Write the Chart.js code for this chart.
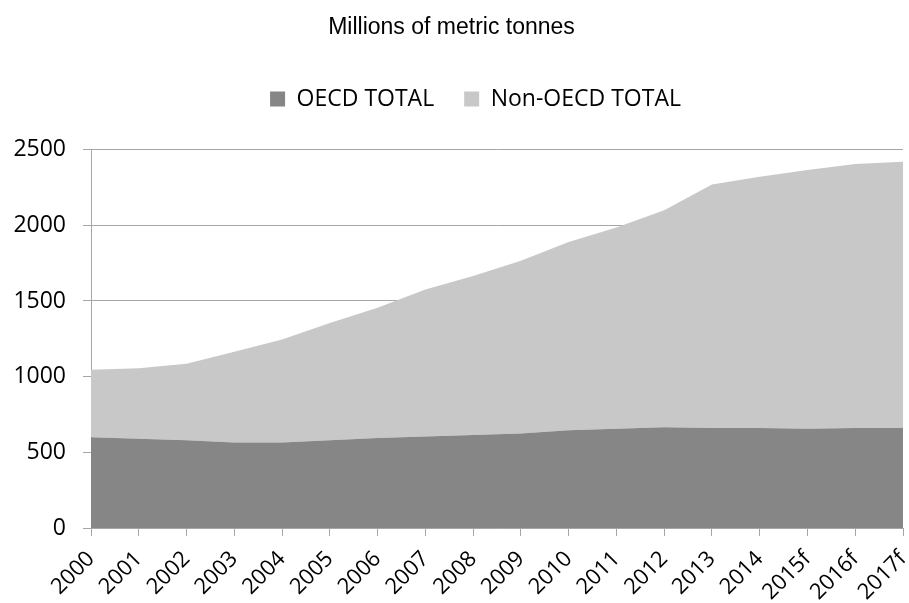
<!DOCTYPE html>
<html lang="en">
<head>
  <meta charset="UTF-8">
  <title>Millions of metric tonnes</title>
  <script src="https://cdn.jsdelivr.net/npm/chart.js"></script>
  <style>
    body {
      margin: 0;
      background: #ffffff;
    }
    .chart-container {
      width: 909px;
      height: 603px;
    }
  </style>
</head>
<body>
  <div class="chart-container">
    <canvas id="areaChart"></canvas>
  </div>

  <script>
    const years = [
      '2000', '2001', '2002', '2003', '2004', '2005', '2006', '2007', '2008',
      '2009', '2010', '2011', '2012', '2013', '2014', '2015f', '2016f', '2017f'
    ];

    const oecdTotal = [600, 590, 580, 565, 565, 580, 595, 605, 615, 625, 645, 655, 665, 660, 660, 655, 660, 660];
    const nonOecdTotal = [445, 465, 505, 600, 680, 775, 860, 970, 1050, 1140, 1245, 1330, 1435, 1610, 1660, 1710, 1745, 1760];

    const yTicks = [0, 500, 1000, 1500, 2000, 2500];

    // pushes the plot down from the legend and nudges the legend right
    const legendGap = {
      id: 'legendGap',
      beforeInit(chart) {
        const fit = chart.legend.fit;
        chart.legend.fit = function () {
          fit.bind(chart.legend)();
          this.height += 29;
        };
      },
      afterLayout(chart) {
        chart.legend.left += 24;
        chart.legend.right += 24;
      }
    };

    const ctx = document.getElementById('areaChart').getContext('2d');
    new Chart(ctx, {
      type: 'line',
      data: {
        labels: years,
        datasets: [
          {
            label: 'OECD TOTAL',
            data: oecdTotal,
            backgroundColor: '#868686',
            borderColor: '#868686',
            borderWidth: 0,
            pointRadius: 0,
            fill: 'origin',
            tension: 0
          },
          {
            label: 'Non-OECD TOTAL',
            data: nonOecdTotal,
            backgroundColor: '#c8c8c8',
            borderColor: '#c8c8c8',
            borderWidth: 0,
            pointRadius: 0,
            fill: '-1',
            tension: 0
          }
        ]
      },
      options: {
        responsive: true,
        maintainAspectRatio: false,
        animation: false,
        layout: { padding: { left: 0, right: 6, top: 0, bottom: 0 } },
        plugins: {
          title: {
            display: true,
            text: 'Millions of metric tonnes',
            color: '#000',
            font: { family: 'Liberation Sans', size: 23, weight: 'normal' },
            padding: { top: 14, bottom: 16 }
          },
          legend: {
            display: true,
            position: 'top',
            labels: {
              color: '#000',
              font: { family: 'Open Sans', size: 23 },
              boxWidth: 15,
              boxHeight: 15,
              padding: 30
            }
          },
          tooltip: { enabled: false }
        },
        scales: {
          x: {
            offset: false,
            border: { color: '#a6a6a6', width: 1 },
            grid: { drawOnChartArea: false, drawTicks: true, tickLength: 8, color: '#a6a6a6' },
            ticks: {
              color: '#000',
              font: { family: 'Open Sans', size: 22 },
              minRotation: 45,
              maxRotation: 45,
              autoSkip: false,
              padding: 10
            },
            afterFit(axis) {
              axis.height = 75;
              axis.paddingRight = 0;
            }
          },
          y: {
            stacked: true,
            min: 0,
            max: 2500,
            border: { color: '#a6a6a6', width: 1 },
            grid: { color: '#a6a6a6', tickLength: 8 },
            afterBuildTicks(axis) {
              axis.ticks = yTicks.map(v => ({ value: v }));
            },
            afterFit(axis) {
              axis.width = 91;
            },
            ticks: {
              color: '#000',
              font: { family: 'Open Sans', size: 23 },
              padding: 17,
              callback: (value) => String(value)
            }
          }
        }
      },
      plugins: [legendGap]
    });
  </script>
</body>
</html>
